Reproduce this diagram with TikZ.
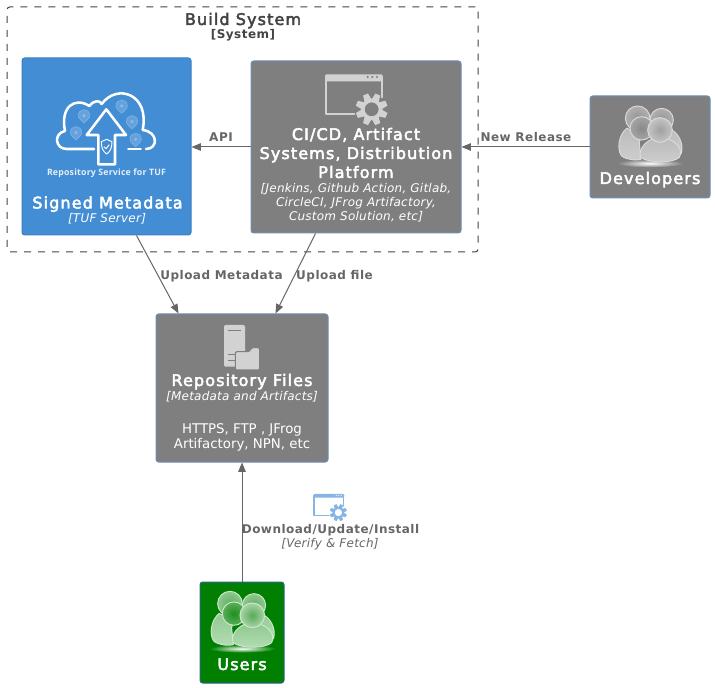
\documentclass[tikz,border=0pt]{standalone}
\usepackage{fontspec}
\setmainfont{DejaVu Sans}
\newfontfamily\tinyfont[LetterSpace=2]{Open Sans}
\newfontfamily\titlefont[LetterSpace=7,FakeBold=3]{DejaVu Sans}
\newfontfamily\labelfont[LetterSpace=4]{DejaVu Sans}
\newfontfamily\notefont[LetterSpace=2]{DejaVu Sans}
\usetikzlibrary{arrows.meta,calc}
\definecolor{boxgrey}{HTML}{7F7F7F}
\definecolor{boxline}{HTML}{6D8FB5}
\definecolor{tufblue}{HTML}{438DD5}
\definecolor{tufline}{HTML}{3C7FC0}
\definecolor{usergreen}{HTML}{007F00}
\definecolor{userline}{HTML}{2E6295}
\definecolor{inktext}{HTML}{666666}
\definecolor{frametext}{HTML}{444444}
\definecolor{iconlight}{HTML}{D2D2D2}
\definecolor{iconblue}{HTML}{85B4E6}
% crowd icon palettes
\definecolor{devbg}{HTML}{7F7F7F}
\definecolor{devbackin}{HTML}{959595}
\definecolor{devbackout}{HTML}{B0B0B0}
\definecolor{devfrontin}{HTML}{8A8A8A}
\definecolor{devfrontout}{HTML}{A4A4A4}
\definecolor{devnearin}{HTML}{A0A0A0}
\definecolor{devnearout}{HTML}{C4C4C4}
\definecolor{devbodytop}{HTML}{BBBBBB}
\definecolor{devbodybot}{HTML}{CECECE}
\definecolor{devedge}{HTML}{DADADA}
\definecolor{usrbg}{HTML}{007F00}
\definecolor{usrbackin}{HTML}{60AE60}
\definecolor{usrbackout}{HTML}{8FC88F}
\definecolor{usrfrontin}{HTML}{1F8F1F}
\definecolor{usrfrontout}{HTML}{5AAE5A}
\definecolor{usrnearin}{HTML}{58AA58}
\definecolor{usrnearout}{HTML}{A8D4A8}
\definecolor{usrbodytop}{HTML}{90CA90}
\definecolor{usrbodybot}{HTML}{B4DCB4}
\definecolor{usredge}{HTML}{CCE8CC}
\tikzset{
  panel/.style={draw=#1,line width=0.75pt,rounded corners=2pt,inner sep=0pt},
  link/.style={draw=inktext,line width=0.75pt,-{Triangle[length=7pt,width=5.6pt]}},
  boxtitle/.style={anchor=base,text=white,inner sep=0pt,font=\fontsize{12}{14}\titlefont},
  boxnote/.style={anchor=base,text=white,inner sep=0pt,font=\fontsize{9}{11}\notefont\itshape},
  boxbody/.style={anchor=base,text=white,inner sep=0pt,font=\fontsize{10}{12}\selectfont},
  linklabel/.style={anchor=base,text=inktext,inner sep=0pt,font=\fontsize{9}{11}\labelfont\bfseries},
  linknote/.style={anchor=base,text=inktext,inner sep=0pt,font=\fontsize{9}{11}\notefont\itshape},
  facepart/.style={draw=#1edge,line width=0.7pt}
}
% group-of-people icon: #1 shift, #2 palette prefix
\newcommand{\crowdicon}[2]{%
  \begin{scope}[shift={#1},scale=1/3]
    \shade[inner color=white,outer color=#2bg] (120,190) ellipse (100 and 12);
    % back pair
    \path[facepart=#2,top color=#2bodytop,bottom color=#2bodybot]
      (175,85) .. controls (205,95) and (222,130) .. (214,160) -- (150,160) -- cycle;
    \path[facepart=#2,inner color=#2backin,outer color=#2backout] (155,60) circle (35);
    \path[facepart=#2,top color=#2bodytop,bottom color=#2bodybot]
      (50,85) .. controls (25,105) and (20,150) .. (35,168)
      .. controls (50,180) and (80,182) .. (93,178) -- (88,128) -- (95,100) -- cycle;
    \path[facepart=#2,inner color=#2backin,outer color=#2backout] (83,55) circle (37);
    \path[facepart=#2,inner color=#2frontin,outer color=#2frontout] (95,85) circle (35);
    % nearest figure
    \path[facepart=#2,top color=#2bodytop,bottom color=#2bodybot]
      (125,118) .. controls (100,128) and (85,155) .. (92,172)
      .. controls (115,190) and (190,190) .. (208,172)
      .. controls (220,150) and (200,125) .. (175,118) -- cycle;
    \path[facepart=#2,inner color=#2nearin,outer color=#2nearout] (150,90) circle (37);
  \end{scope}}
% browser window with a gear: #1 shift, #2 scale, #3 colour, #4 line width, #5 dots
\newcommand{\wingear}[5]{%
  \begin{scope}[shift={#1},scale=#2]
    \draw[#3,line width=#4,line join=round,line cap=round] (103,132) -- (18,132) -- (18,20) -- (185,20) -- (185,82);
    \fill[#3,rounded corners=1pt] (15,13) rectangle (188,34);
    \foreach \dotx in {143,157,171} \fill[#5] (\dotx,21) circle (3.5);
    \fill[#3,even odd rule] (155,118) circle (32) (155,118) circle (21);
    \foreach \toothangle in {22.5,67.5,...,337.5}
      \fill[#3,rotate around={\toothangle:(155,118)}] (147,70) -- (163,70) -- (166,90) -- (144,90) -- cycle;
  \end{scope}}
\begin{document}
\begin{tikzpicture}[x=0.75pt,y=-0.75pt]
\useasboundingbox (0,0) rectangle (715,688);
% system boundary
\node[draw=frametext,dash pattern=on 5.25pt off 5.25pt,rounded corners=2pt,line width=0.75pt,inner sep=0pt,minimum width=353.25pt,minimum height=183.75pt] (boundary) at (242.5,129.5) {};
\node[anchor=base,inner sep=0pt,text=frametext,font=\fontsize{12}{14}\titlefont] (boundaryname) at (243,25) {Build System};
\node[anchor=base,inner sep=0pt,text=frametext,font=\fontsize{9}{11}\labelfont\bfseries] (boundarytype) at (243,39) {[System]};
% boxes
\node[panel=tufline,fill=tufblue,minimum width=126.75pt,minimum height=132.75pt] (signed) at (106.5,146.5) {};
\node[panel=boxline,fill=boxgrey,minimum width=157.5pt,minimum height=129pt] (cicd) at (356,147) {};
\node[panel=boxline,fill=boxgrey,minimum width=90pt,minimum height=76.5pt] (devs) at (650,147) {};
\node[panel=boxline,fill=boxgrey,minimum width=129pt,minimum height=111pt] (repo) at (242,388) {};
\node[panel=userline,fill=usergreen,minimum width=63pt,minimum height=75.75pt] (users) at (242,632.5) {};
% connectors
\draw[link] ($(signed.south west)+(115,0)$) -- ($(repo.north west)+(23,0)$);
\draw[link] ($(cicd.south west)+(65,0)$) -- ($(repo.north west)+(120,0)$);
\draw[link] (cicd.west) -- ($(signed.east)+(0,0.5)$);
\draw[link] (devs.west) -- (cicd.east);
\draw[link] (users.north) -- (repo.south);
% connector labels
\node[linklabel] (lapi) at (221,142) {API};
\node[linklabel] (lrelease) at (526,142) {New Release};
\node[linklabel] (lmeta) at (221.5,280) {Upload Metadata};
\node[linklabel] (lfile) at (334.5,280) {Upload file};
\node[linklabel] (ldown) at (330.5,533) {Download/Update/Install};
\node[linknote] (lverify) at (330,547.2) {[Verify \& Fetch]};
% signed metadata icon and text
\begin{scope}[shift={(20,50)},scale=1/3]
  \draw[white,line width=1.9pt,line cap=round,line join=round]
    (222,297) -- (140,297) .. controls (105,297) and (100,250) .. (135,243)
    .. controls (120,170) and (165,140) .. (208,168)
    .. controls (222,150) and (240,150) .. (245,162)
    .. controls (290,100) and (390,130) .. (368,240)
    .. controls (415,245) and (415,297) .. (378,297);
  \draw[white,line width=1.9pt,line cap=round] (325,297) -- (362,297);
  \draw[white,line width=1.9pt,line join=round]
    (259,178) -- (318,255) -- (285,255) -- (285,343) -- (235,343) -- (235,255) -- (200,255) -- cycle;
  \draw[white,line width=0.7pt,line join=round]
    (260,268) -- (276,275) .. controls (276,295) and (270,305) .. (260,312)
    .. controls (250,305) and (244,295) .. (244,275) -- cycle;
  \draw[white,line width=0.7pt] (252,290) -- (258,296) -- (268,284);
  \foreach \pinx/\piny in {192/197,168/248,305/168,336/215,347/268}{
    \filldraw[fill=white!18!tufblue,draw=white!32!tufblue,line width=0.5pt]
      (\pinx-17,\piny) .. controls (\pinx-17,\piny-24) and (\pinx+17,\piny-24) .. (\pinx+17,\piny)
      .. controls (\pinx+17,\piny+9) and (\pinx+4,\piny+17) .. (\pinx,\piny+22)
      .. controls (\pinx-4,\piny+17) and (\pinx-17,\piny+9) .. (\pinx-17,\piny) -- cycle;
    \fill[white!40!tufblue] (\pinx,\piny) circle (5);
  }
\end{scope}
\node[anchor=base,inner sep=0pt,text=white!85!tufblue,font=\fontsize{6.6}{7}\tinyfont\bfseries] (tufmark) at (106.5,176) {Repository Service for TUF};
\node[boxtitle] (signedname) at (107.5,208.5) {Signed Metadata};
\node[boxnote] (signedtype) at (107,223) {[TUF Server]};
% ci/cd icon and text
\wingear{(320,70)}{1/3}{iconlight}{1.3pt}{boxgrey}
\node[boxtitle] (cicd1) at (356,140) {CI/CD, Artifact};
\node[boxtitle] (cicd2) at (356,159) {Systems, Distribution};
\node[boxtitle] (cicd3) at (356,178) {Platform};
\node[boxnote] (cicdn1) at (356,193) {[Jenkins, Github Action, Gitlab,};
\node[boxnote] (cicdn2) at (356,207) {CircleCI, JFrog Artifactory,};
\node[boxnote] (cicdn3) at (356,221) {Custom Solution, etc]};
% developers
\crowdicon{(610,100)}{dev}
\node[boxtitle] (devsname) at (650,184) {Developers};
% repository icon and text
\begin{scope}[shift={(150,305)},scale=1/3]
  \fill[iconlight,rounded corners=1pt] (222,60) rectangle (285,185);
  \draw[boxgrey,line width=0.75pt] (233,78) -- (273,78) (235,150) -- (256,150) (235,166) -- (256,166);
  \fill[iconlight,draw=boxgrey,line width=0.75pt,rounded corners=1pt]
    (256,195) -- (256,140) -- (298,140) -- (305,128) -- (329,128) -- (329,195) -- cycle;
\end{scope}
\node[boxtitle] (reponame) at (242,386) {Repository Files};
\node[boxnote] (repotype) at (242,401) {[Metadata and Artifacts]};
\node[boxbody] (repob1) at (242,433.5) {HTTPS, FTP , JFrog};
\node[boxbody] (repob2) at (242,449) {Artifactory, NPN, etc};
% users
\crowdicon{(202.3,585.3)}{usr}
\node[boxtitle] (usersname) at (242,670) {Users};
% link icon
\wingear{(310.8,491.6)}{0.178}{iconblue}{0.8pt}{white}
\end{tikzpicture}
\end{document}
